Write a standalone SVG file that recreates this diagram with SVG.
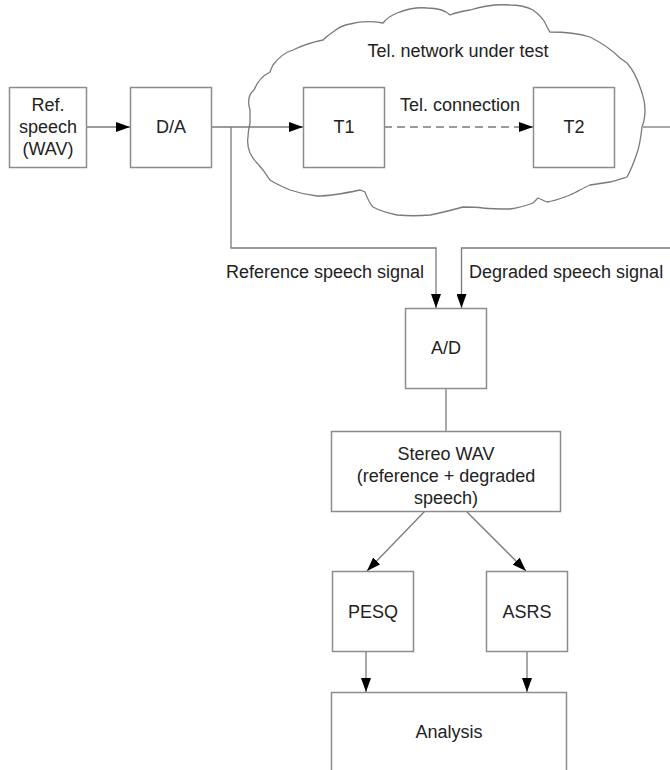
<svg xmlns="http://www.w3.org/2000/svg" width="670" height="770" viewBox="0 0 670 770">
  <style>
    .box { fill: #ffffff; stroke: #8c8c8c; stroke-width: 1.5; }
    .cloud { fill: #ffffff; stroke: #7a7a7a; stroke-width: 1.3; }
    .wire { fill: none; stroke: #7a7a7a; stroke-width: 1.3; }
    .dash { stroke-dasharray: 8 5; }
    .lbl { font-family: "Liberation Sans", Arial, sans-serif; font-size: 18px; fill: #222222; text-anchor: middle; }
    .lbl-l { font-family: "Liberation Sans", Arial, sans-serif; font-size: 18px; fill: #222222; }
  </style>
  <defs>
    <marker id="arrow" markerWidth="14" markerHeight="10" refX="14" refY="5" orient="auto" markerUnits="userSpaceOnUse">
      <path d="M0,0 L14,5 L0,10 Z" fill="#000000"/>
    </marker>
  </defs>

  <rect width="670" height="770" fill="#ffffff"/>

  <!-- Network cloud -->
  <g id="network">
    <path class="cloud" d="M250,110 C247,100 249,94 254,90 C258,80 264,75 270,72 C271,69 272,67 273,65 C279,57 286,52 293,50 C303,45 313,42 323,40 C327,36 330,34 333,32 C339,27 344,25 350,24 C361,21 372,21 383,23 C387,18 392,15 397,13 C407,9 417,7 427,8 C436,8 445,10 450,15 C457,12 463,11 470,10 C483,6 497,4 510,5 C519,5 527,7 533,10 C540,15 545,21 547,27 L550,32 C564,32 577,33 590,37 C602,43 612,50 620,58 L627,63 C633,70 637,78 640,87 C643,95 645,103 645,110 C645,116 644,122 642,127 C641,136 640,145 637,153 C634,162 631,170 627,177 C621,179 616,181 610,182 C603,183 597,184 590,185 C583,188 577,192 570,195 C562,198 555,201 547,202 C544,201 541,199 538,198 L533,203 C525,206 518,208 510,209 C501,209 492,209 483,208 C476,207 470,207 463,207 C452,210 441,213 430,215 C419,216 408,216 397,215 C388,213 380,211 373,207 C369,203 367,197 365,192 L360,190 C346,193 332,196 317,196 C308,195 299,193 290,190 C283,187 276,184 270,180 L263,170 C261,168 259,165 257,163 C254,160 252,157 250,153 C248,148 247,143 248,137 C248,132 249,127 250,123 C250,119 250,114 250,110 Z"/>
    <text class="lbl" x="458" y="57">Tel. network under test</text>
  </g>

  <!-- Connectors -->
  <g id="connectors">
    <line class="wire" x1="87" y1="127" x2="130" y2="127" marker-end="url(#arrow)"/>
    <line class="wire" x1="211" y1="127" x2="303" y2="127" marker-end="url(#arrow)"/>
    <line class="wire dash" x1="384" y1="127" x2="533" y2="127" marker-end="url(#arrow)"/>
    <line class="wire" x1="643" y1="127" x2="670" y2="127"/>
    <polyline class="wire" points="231,127 231,248 436,248 436,308" marker-end="url(#arrow)"/>
    <polyline class="wire" points="670,248 461.5,248 461.5,308" marker-end="url(#arrow)"/>
    <line class="wire" x1="446" y1="388" x2="446" y2="431"/>
    <line class="wire" x1="425" y1="511" x2="367" y2="571" marker-end="url(#arrow)"/>
    <line class="wire" x1="466" y1="511" x2="526" y2="571" marker-end="url(#arrow)"/>
    <line class="wire" x1="366" y1="652" x2="366" y2="692" marker-end="url(#arrow)"/>
    <line class="wire" x1="527" y1="652" x2="527" y2="692" marker-end="url(#arrow)"/>
    <text class="lbl" x="460" y="111">Tel. connection</text>
    <text class="lbl-l" x="226" y="278">Reference speech signal</text>
    <text class="lbl-l" x="469" y="278">Degraded speech signal</text>
  </g>

  <!-- Nodes -->
  <g id="ref-speech">
    <rect class="box" x="9.5" y="87.5" width="77" height="80"/>
    <text class="lbl" x="48" y="111">Ref.</text>
    <text class="lbl" x="48" y="133">speech</text>
    <text class="lbl" x="48" y="155">(WAV)</text>
  </g>
  <g id="da">
    <rect class="box" x="130.5" y="87.5" width="81" height="80"/>
    <text class="lbl" x="171" y="133">D/A</text>
  </g>
  <g id="t1">
    <rect class="box" x="303.5" y="87.5" width="81" height="80"/>
    <text class="lbl" x="344" y="133">T1</text>
  </g>
  <g id="t2">
    <rect class="box" x="533.5" y="87.5" width="81" height="80"/>
    <text class="lbl" x="574" y="133">T2</text>
  </g>
  <g id="ad">
    <rect class="box" x="405.5" y="308.5" width="81" height="80"/>
    <text class="lbl" x="446" y="354">A/D</text>
  </g>
  <g id="stereo-wav">
    <rect class="box" x="331.5" y="431.5" width="229" height="80"/>
    <text class="lbl" x="446" y="460">Stereo WAV</text>
    <text class="lbl" x="446" y="482">(reference + degraded</text>
    <text class="lbl" x="446" y="504">speech)</text>
  </g>
  <g id="pesq">
    <rect class="box" x="332.5" y="571.5" width="81" height="80"/>
    <text class="lbl" x="373" y="618">PESQ</text>
  </g>
  <g id="asrs">
    <rect class="box" x="486.5" y="571.5" width="81" height="80"/>
    <text class="lbl" x="527" y="618">ASRS</text>
  </g>
  <g id="analysis">
    <rect class="box" x="331.5" y="692.5" width="235" height="90"/>
    <text class="lbl" x="449" y="738">Analysis</text>
  </g>
</svg>
